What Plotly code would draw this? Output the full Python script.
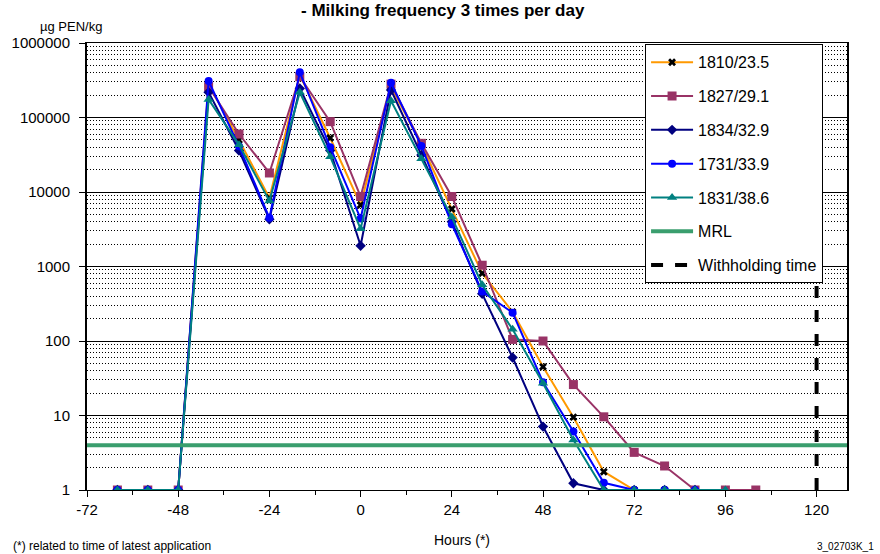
import plotly.graph_objects as go

hours = [-64, -56, -48, -40, -32, -24, -16, -8, 0, 8, 16, 24, 32, 40, 48, 56, 64, 72, 80, 88, 96, 104]

s1810 = [1, 1, 1, 280000, 50000, 8300, 370000, 53000, 6700, 260000, 43000, 5900, 810, 245, 45, 9.5, 1.76, 1, 1, 1]
s1827 = [1, 1, 1, 259000, 60000, 18000, 353000, 88000, 8700, 280000, 45000, 8700, 1040, 105, 100, 26, 9.6, 3.2, 2.1, 1, 1, 1]
s1834 = [1, 1, 1, 218000, 36000, 4300, 246000, 36000, 1900, 234000, 31500, 4000, 430, 60, 7.1, 1.23, 1, 1, 1, 1]
s1731 = [1, 1, 1, 309000, 41000, 4500, 404000, 40000, 4400, 293000, 41500, 3700, 460, 240, 28, 6.1, 1.25, 1, 1, 1]
s1831 = [1, 1, 1, 175000, 43000, 7600, 218000, 29800, 3200, 168000, 28000, 4600, 570, 144, 27, 4.7, 1, 1, 1, 1, 1]

mrl_x = [-72, 128]
mrl_y = [4, 4]
withholding_x = [120, 120]
withholding_y = [1, 1000000]

x_ticks = [-72, -48, -24, 0, 24, 48, 72, 96, 120]
y_ticks = [1, 10, 100, 1000, 10000, 100000, 1000000]

FONT = "Arial, Liberation Sans, sans-serif"

series = [
    ("1810/23.5", s1810, "#FF9900", dict(symbol="x", color="black", size=7)),
    ("1827/29.1", s1827, "#993366", dict(symbol="square", color="#993366", size=9)),
    ("1834/32.9", s1834, "#000080", dict(symbol="diamond", color="#000080", size=8)),
    ("1731/33.9", s1731, "#0000FF", dict(symbol="circle", color="#0000FF", size=8)),
    ("1831/38.6", s1831, "#008080", dict(symbol="triangle-up", color="#008080", size=9)),
]

fig = go.Figure()
for i, (name, vals, col, mk) in enumerate(series):
    fig.add_trace(go.Scatter(
        x=hours[:len(vals)], y=vals, name=name, mode="lines+markers",
        line=dict(color=col, width=2), marker=mk, legendgroup=f"g{i}",
    ))

fig.add_trace(go.Scatter(x=mrl_x, y=mrl_y, name="MRL", mode="lines",
                         line=dict(color="#3A9E6E", width=4), legendgroup="g5"))
fig.add_trace(go.Scatter(x=withholding_x, y=withholding_y, name="Withholding time", mode="lines",
                         line=dict(color="black", width=4, dash="dash"), legendgroup="g6"))

fig.update_layout(
    width=880, height=554,
    margin=dict(l=84, r=33, t=43, b=64),
    paper_bgcolor="white", plot_bgcolor="white",
    font=dict(family=FONT, size=15, color="black"),
    showlegend=True,
    legend=dict(x=0.9685, y=0.997, xanchor="right", yanchor="top",
                bgcolor="white", bordercolor="black", borderwidth=1,
                font=dict(size=16), tracegroupgap=10, itemwidth=42,
                traceorder="grouped"),
    xaxis=dict(range=[-72, 128], tickvals=x_ticks, ticktext=[str(v) for v in x_ticks],
               ticks="outside", ticklen=6, tickcolor="black", showgrid=False,
               showline=True, linecolor="black", linewidth=1, mirror=True,
               zeroline=False, tickfont=dict(size=15),
               minor=dict(dtick=12, tick0=0, ticks="outside", ticklen=4, tickcolor="black", showgrid=False)),
    yaxis=dict(type="log", range=[0, 6], tickvals=y_ticks, ticktext=[str(v) for v in y_ticks],
               ticks="outside", ticklen=6, tickcolor="black", tickfont=dict(size=15),
               ticklabelstandoff=6,
               showgrid=True, gridcolor="black", gridwidth=1,
               showline=True, linecolor="black", linewidth=2, mirror=True,
               zeroline=False,
               minor=dict(showgrid=True, gridcolor="black", griddash="1px,2px", gridwidth=1, dtick="D1")),
)

ann = [
    dict(text="<b>- Milking frequency 3 times per day</b>", x=0.469, y=1.0738, xanchor="center", yanchor="middle", font=dict(size=17)),
    dict(text="µg PEN/kg", x=-0.0642, y=1.0358, xanchor="left", yanchor="middle", font=dict(size=13)),
    dict(text="Hours (*)", x=0.4928, y=-0.1119, xanchor="center", yanchor="middle", font=dict(size=14)),
    dict(text="(*) related to time of latest application", x=-0.0996, y=-0.1253, xanchor="left", yanchor="middle", font=dict(size=12)),
    dict(text="3_02703K_1", x=1.038, y=-0.1253, xanchor="right", yanchor="middle", font=dict(size=10)),
]
for a in ann:
    fig.add_annotation(xref="paper", yref="paper", showarrow=False, **a)

fig.write_html("out.html", config={"displayModeBar": False},
               post_script="document.body.style.margin='0';document.body.style.overflow='hidden';")
